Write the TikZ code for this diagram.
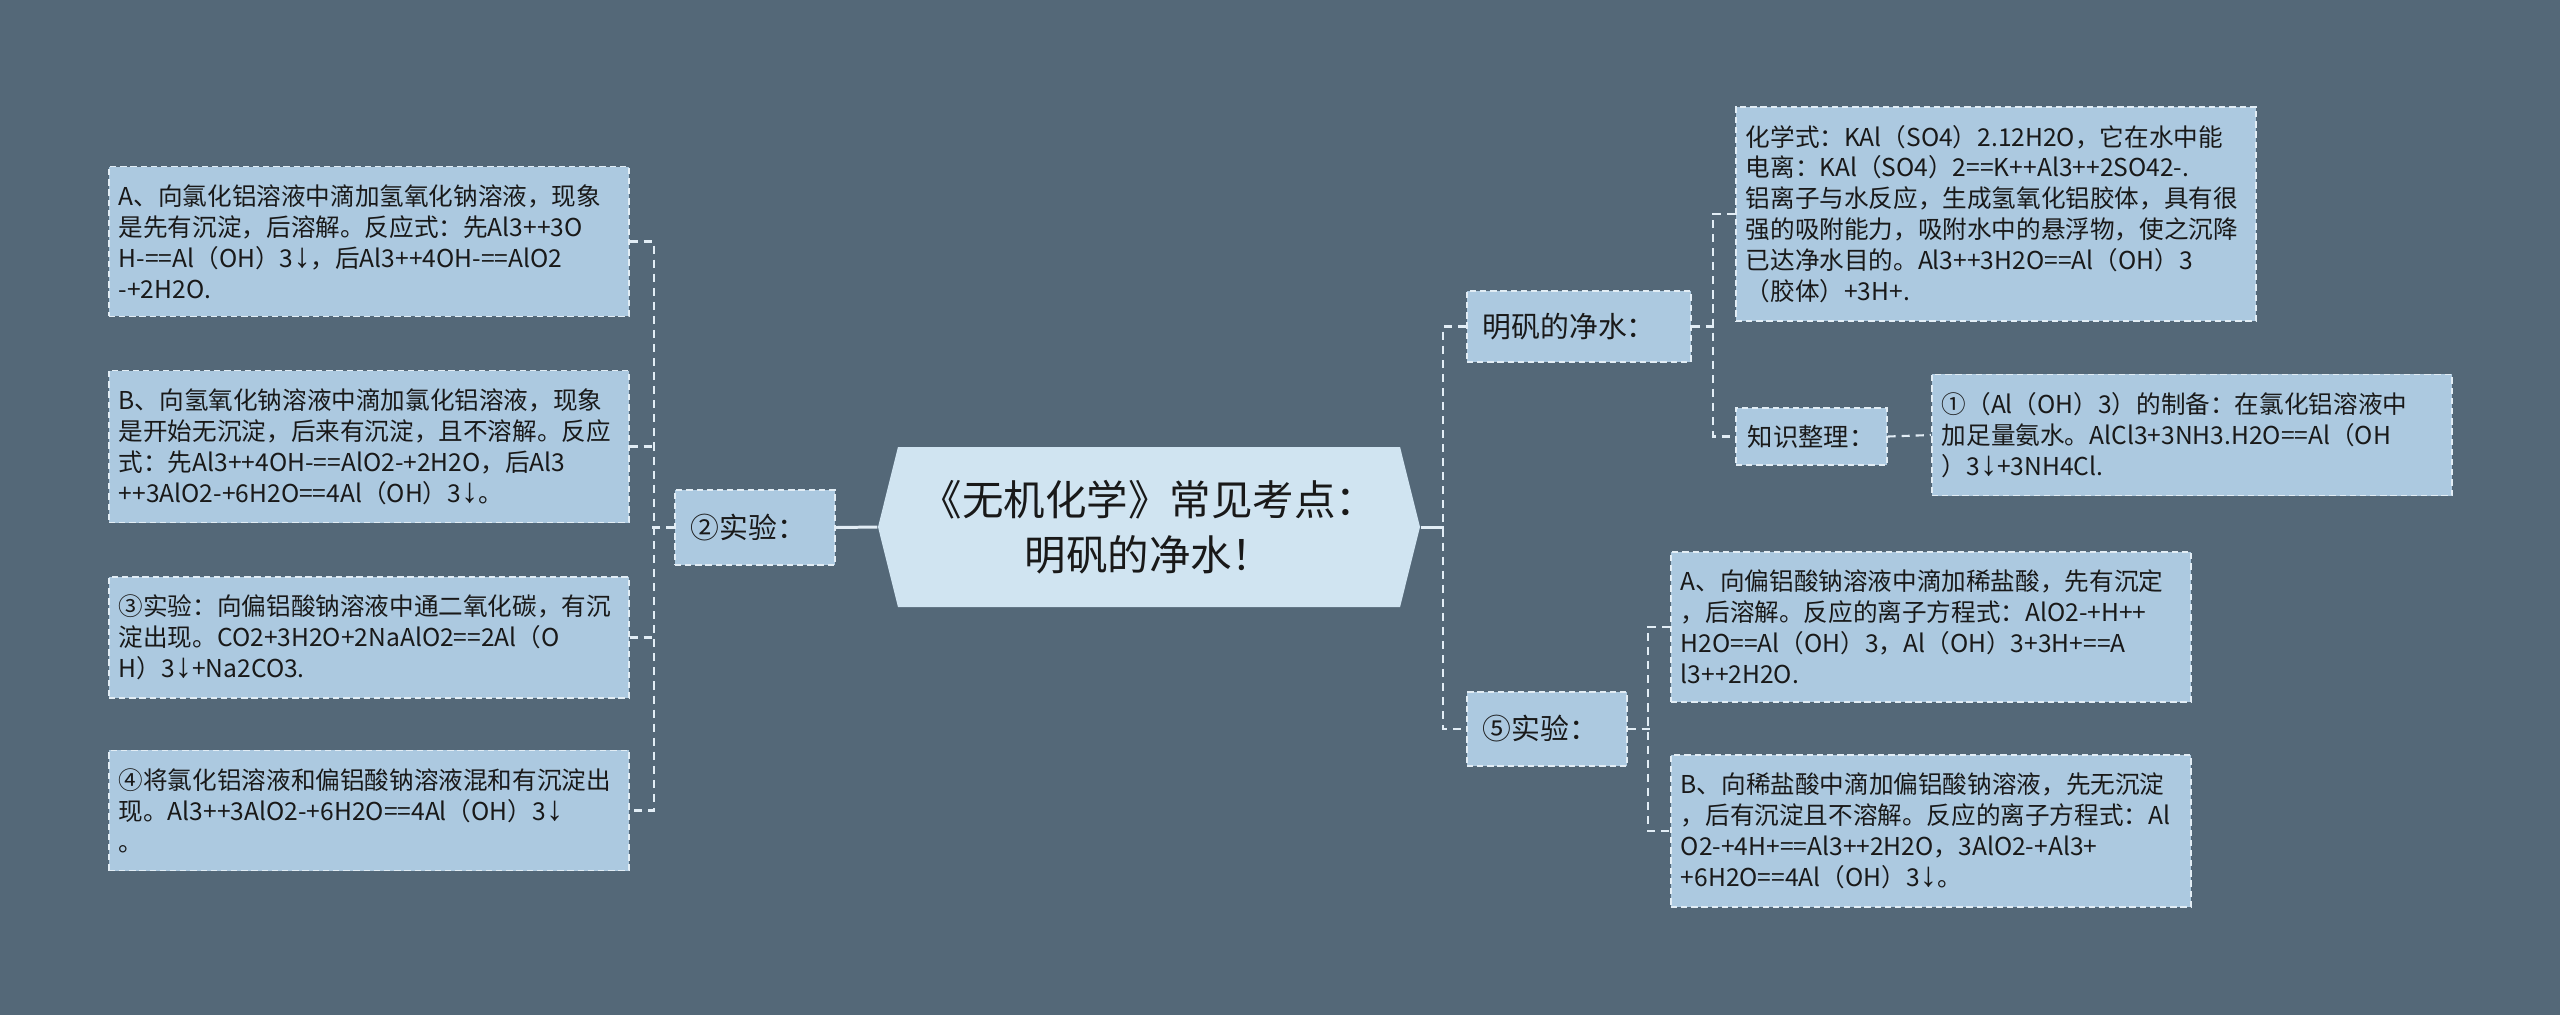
\documentclass[tikz,border=0pt]{standalone}
\usepackage{fontspec}
\setmainfont{Noto Sans CJK SC}
\newfontfamily\arrowfont[Scale=1.4]{Liberation Sans}
\newcommand{\precip}{{\arrowfont ↓}}
\usetikzlibrary{shapes.symbols}

\definecolor{bgslate}{RGB}{84,104,120}
\definecolor{leafblue}{RGB}{172,201,224}
\definecolor{titleblue}{RGB}{208,228,241}
\definecolor{wirecol}{RGB}{226,237,245}
\definecolor{inkcol}{RGB}{25,25,25}

\begin{document}
\begin{tikzpicture}[
  box/.style={draw=wirecol, line width=0.45pt, dash pattern=on 1.8pt off 1.1pt,
    fill=leafblue, text=inkcol},
  leaf/.style={box, anchor=west, align=left, text width=5.0cm, inner xsep=0.1cm,
    inner ysep=0.18cm, font=\fontsize{7pt}{8.8pt}\selectfont},
  branch/.style={box, anchor=west, align=left, inner xsep=0.16cm, inner ysep=0pt,
    font=\fontsize{8.2pt}{9pt}\selectfont},
  link/.style={wirecol, line width=0.6pt, dash pattern=on 2.3pt off 1.7pt},
  trunk/.style={wirecol, line width=0.85pt}
]
  \fill[bgslate] (0,0) rectangle (25.6,-10.15);
  %
  \node[signal, signal to=west and east, signal pointer angle=152,
    fill=titleblue, text=inkcol, minimum width=5.42cm, minimum height=1.6cm,
    align=center, font=\fontsize{11.8pt}{15.6pt}\selectfont]
    (title) at (11.49,-5.27) {《无机化学》常见考点：\\明矾的净水！};
  %
  \node[branch, text width=1.28cm, minimum height=0.75cm] (exp2) at (6.74,-5.275) {②实验：};
  \node[leaf] (leafA) at (1.08,-2.415) {A、向氯化铝溶液中滴加氢氧化钠溶液，现象\\
    是先有沉淀，后溶解。反应式：先Al3++3O\\
    H-==Al（OH）3\precip，后Al3++4OH-==AlO2\\
    -+2H2O.};
  \node[leaf] (leafB) at (1.08,-4.465) {B、向氢氧化钠溶液中滴加氯化铝溶液，现象\\
    是开始无沉淀，后来有沉淀，且不溶解。反应\\
    式：先Al3++4OH-==AlO2-+2H2O，后Al3\\
    ++3AlO2-+6H2O==4Al（OH）3\precip。};
  \node[leaf] (leafC) at (1.08,-6.375) {③实验：向偏铝酸钠溶液中通二氧化碳，有沉\\
    淀出现。CO2+3H2O+2NaAlO2==2Al（O\\
    H）3\precip+Na2CO3.};
  \node[leaf] (leafD) at (1.08,-8.105) {④将氯化铝溶液和偏铝酸钠溶液混和有沉淀出\\
    现。Al3++3AlO2-+6H2O==4Al（OH）3\precip\\
    。};
  %
  \node[branch, text width=1.92cm, minimum height=0.71cm] (alum) at (14.66,-3.265) {明矾的净水：};
  \node[branch, text width=1.28cm, minimum height=0.74cm] (exp5) at (14.66,-7.29) {⑤实验：};
  \node[leaf] (formula) at (17.35,-2.14) {化学式：KAl（SO4）2.12H2O，它在水中能\\
    电离：KAl（SO4）2==K++Al3++2SO42-.\\
    铝离子与水反应，生成氢氧化铝胶体，具有很\\
    强的吸附能力，吸附水中的悬浮物，使之沉降\\
    已达净水目的。Al3++3H2O==Al（OH）3\\
    （胶体）+3H+.};
  \node[branch, text width=1.27cm, inner xsep=0.12cm, minimum height=0.57cm,
    font=\fontsize{7.2pt}{8pt}\selectfont] (sort) at (17.35,-4.365) {知识整理：};
  \node[leaf] (prep) at (19.31,-4.35) {①（Al（OH）3）的制备：在氯化铝溶液中\\
    加足量氨水。AlCl3+3NH3.H2O==Al（OH\\
    ）3\precip+3NH4Cl.};
  \node[leaf] (acidA) at (16.70,-6.27) {A、向偏铝酸钠溶液中滴加稀盐酸，先有沉定\\
    ，后溶解。反应的离子方程式：AlO2-+H++\\
    H2O==Al（OH）3，Al（OH）3+3H+==A\\
    l3++2H2O.};
  \node[leaf] (acidB) at (16.70,-8.31) {B、向稀盐酸中滴加偏铝酸钠溶液，先无沉淀\\
    ，后有沉淀且不溶解。反应的离子方程式：Al\\
    O2-+4H+==Al3++2H2O，3AlO2-+Al3+\\
    +6H2O==4Al（OH）3\precip。};
  %
  \draw[trunk] (exp2.east) -- (title.west);
  \draw[link] (exp2.west) -- ++(-0.23,0);
  \draw[link] (leafA.east) -- ++(0.24,0) |- (leafD.east);
  \draw[link] (leafB.east) -- ++(0.24,0);
  \draw[link] (leafC.east) -- ++(0.24,0);
  %
  \draw[trunk] (title.east) -- ++(0.23,0);
  \draw[link] (alum.west) -- ++(-0.23,0) |- (exp5.west);
  \draw[link] (alum.east) -- ++(0.23,0);
  \draw[link] (formula.west) -- ++(-0.22,0) |- (sort.west);
  \draw[link] (sort.east) -- (prep.west);
  \draw[link] (exp5.east) -- ++(0.22,0);
  \draw[link] (acidA.west) -- ++(-0.22,0) |- (acidB.west);
\end{tikzpicture}
\end{document}
